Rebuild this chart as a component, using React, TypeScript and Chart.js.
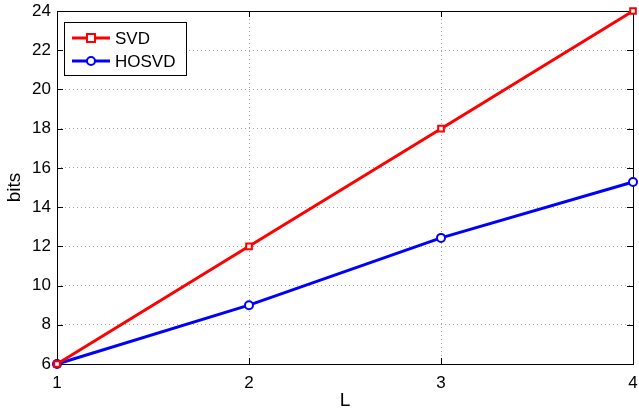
import React, { useEffect, useRef } from "react";
import { Chart, registerables } from "chart.js";

Chart.register(...registerables);

const L_VALUES = [1, 2, 3, 4];
const SVD_BITS = [6, 12, 18, 24];
const HOSVD_BITS = [6, 9, 12.43, 15.28];
const X_TICKS = [1, 2, 3, 4];
const Y_TICKS = [6, 8, 10, 12, 14, 16, 18, 20, 22, 24];
const SERIES_LABELS = ["SVD", "HOSVD"];
const X_TITLE = "L";
const Y_TITLE = "bits";

const FONT = "'Liberation Sans', Arial, Helvetica, sans-serif";

const framePlugin = {
  id: "matlabFrame",
  beforeDatasetsDraw(chart: any) {
    const { ctx, chartArea } = chart;
    const { left, right, top, bottom } = chartArea;
    const xs = chart.scales.x;
    const ys = chart.scales.y;
    ctx.save();
    ctx.strokeStyle = "#000";
    ctx.lineWidth = 1;
    const tl = 6;
    ctx.beginPath();
    X_TICKS.forEach((v) => {
      const px = Math.round(xs.getPixelForValue(v)) + 0.5;
      ctx.moveTo(px, bottom);
      ctx.lineTo(px, bottom - tl);
      ctx.moveTo(px, top);
      ctx.lineTo(px, top + tl);
    });
    Y_TICKS.forEach((v) => {
      const py = Math.round(ys.getPixelForValue(v)) + 0.5;
      ctx.moveTo(left, py);
      ctx.lineTo(left + tl, py);
      ctx.moveTo(right, py);
      ctx.lineTo(right - tl, py);
    });
    ctx.stroke();
    ctx.strokeRect(
      Math.round(left) + 0.5,
      Math.round(top) + 0.5,
      Math.round(right - left),
      Math.round(bottom - top)
    );
    ctx.restore();
  },
};

const legendPlugin = {
  id: "matlabLegend",
  afterDatasetsDraw(chart: any) {
    const { ctx } = chart;
    const x0 = 64.5;
    const y0 = 22.5;
    const w = 122;
    const h = 53;
    ctx.save();
    ctx.fillStyle = "#fff";
    ctx.fillRect(x0, y0, w, h);
    ctx.strokeStyle = "#000";
    ctx.lineWidth = 1;
    ctx.strokeRect(x0, y0, w, h);
    const rows = [38, 61];
    chart.data.datasets.forEach((ds: any, i: number) => {
      const y = rows[i];
      ctx.strokeStyle = ds.borderColor;
      ctx.lineWidth = ds.borderWidth;
      ctx.beginPath();
      ctx.moveTo(72, y);
      ctx.lineTo(110, y);
      ctx.stroke();
      ctx.lineWidth = ds.pointBorderWidth;
      ctx.fillStyle = ds.pointBackgroundColor;
      const r = ds.pointRadius;
      ctx.beginPath();
      if (ds.pointStyle === "rect") {
        ctx.rect(91 - r, y - r, 2 * r, 2 * r);
      } else {
        ctx.arc(91, y, r, 0, Math.PI * 2);
      }
      ctx.fill();
      ctx.stroke();
      ctx.fillStyle = "#000";
      ctx.font = `17px ${FONT}`;
      ctx.textBaseline = "middle";
      ctx.textAlign = "left";
      ctx.fillText(ds.label, 115, y + 1);
    });
    ctx.restore();
  },
};

const zeroPad = (s: any) => {
  s.paddingLeft = 0;
  s.paddingRight = 0;
  s.paddingTop = 0;
  s.paddingBottom = 0;
};

export default function App() {
  const ref = useRef<HTMLCanvasElement | null>(null);

  useEffect(() => {
    if (!ref.current) return;
    const chart = new Chart(ref.current, {
      type: "line",
      data: {
        datasets: [
          {
            label: SERIES_LABELS[0],
            data: L_VALUES.map((x, i) => ({ x, y: SVD_BITS[i] })),
            borderColor: "#ff0000",
            backgroundColor: "#ff0000",
            borderWidth: 3,
            pointStyle: "rect",
            pointRadius: 4,
            pointBorderWidth: 2,
            pointBackgroundColor: "#ffffff",
            pointBorderColor: "#ff0000",
            tension: 0,
            clip: false,
          } as any,
          {
            label: SERIES_LABELS[1],
            data: L_VALUES.map((x, i) => ({ x, y: HOSVD_BITS[i] })),
            borderColor: "#0000ff",
            backgroundColor: "#0000ff",
            borderWidth: 3,
            pointStyle: "circle",
            pointRadius: 4,
            pointBorderWidth: 2,
            pointBackgroundColor: "#ffffff",
            pointBorderColor: "#0000ff",
            tension: 0,
            clip: false,
          } as any,
        ],
      },
      options: {
        responsive: false,
        animation: false,
        layout: { padding: { top: 11, right: 6, left: 0, bottom: 0 } },
        plugins: { legend: { display: false }, tooltip: { enabled: false } },
        scales: {
          x: {
            type: "linear",
            min: 1,
            max: 4,
            afterFit: (s: any) => {
              s.height = 52;
              zeroPad(s);
            },
            afterBuildTicks: (s: any) => {
              s.ticks = X_TICKS.map((v) => ({ value: v }));
            },
            ticks: {
              color: "#000",
              font: { family: FONT, size: 17 },
              padding: 9,
              maxRotation: 0,
            },
            grid: { color: "#a0a0a0", drawTicks: false, lineWidth: 1 },
            border: { display: false, dash: [1, 3] },
            title: {
              display: true,
              text: X_TITLE,
              color: "#000",
              font: { family: FONT, size: 19 },
              padding: { top: 0, bottom: 4 },
            },
          },
          y: {
            type: "linear",
            min: 6,
            max: 24,
            afterFit: (s: any) => {
              s.width = 57;
              zeroPad(s);
            },
            afterBuildTicks: (s: any) => {
              s.ticks = Y_TICKS.map((v) => ({ value: v }));
            },
            ticks: {
              color: "#000",
              font: { family: FONT, size: 17 },
              padding: 6,
            },
            grid: { color: "#a0a0a0", drawTicks: false, lineWidth: 1 },
            border: { display: false, dash: [1, 3] },
            title: {
              display: true,
              text: Y_TITLE,
              color: "#000",
              font: { family: FONT, size: 19 },
              padding: { top: 3, bottom: 0 },
            },
          },
        },
      },
      plugins: [framePlugin, legendPlugin],
    });
    return () => chart.destroy();
  }, []);

  return (
    <div style={{ position: "fixed", left: 0, top: 0, width: 639, height: 416, background: "#fff" }}>
      <canvas ref={ref} width={639} height={416} style={{ display: "block" }} />
    </div>
  );
}
